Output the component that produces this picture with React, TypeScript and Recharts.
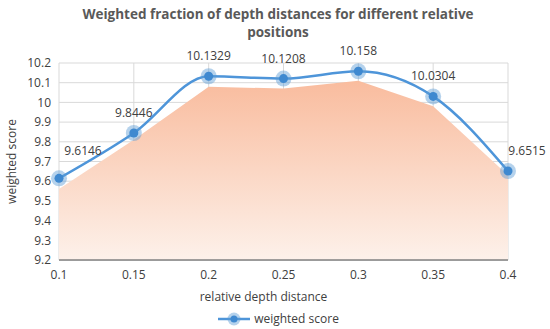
import React from 'react';
import { ComposedChart, Line, Area, XAxis, YAxis, CartesianGrid, Legend, LabelList } from 'recharts';

const categories = ['0.1', '0.15', '0.2', '0.25', '0.3', '0.35', '0.4'];
const weightedScore = [9.6146, 9.8446, 10.1329, 10.1208, 10.158, 10.0304, 9.6515];
const shadowArea = [9.56, 9.81, 10.08, 10.07, 10.11, 9.98, 9.63];
const yTicks = [9.2, 9.3, 9.4, 9.5, 9.6, 9.7, 9.8, 9.9, 10, 10.1, 10.2];

const data = categories.map((c, i) => ({ x: c, score: weightedScore[i], shadow: shadowArea[i] }));

const FONT = '"Segoe UI", "Open Sans", "Noto Sans", sans-serif';

const Dot = (props: any) => {
  const { cx, cy } = props;
  if (cx == null || cy == null) return null;
  return (
    <g>
      <circle cx={cx} cy={cy} r={8} fill="#5b9bd5" fillOpacity={0.45} />
      <circle cx={cx} cy={cy} r={4.5} fill="#3f89d0" />
    </g>
  );
};

const ValueLabel = (props: any) => {
  const { x, y, value, index } = props;
  let dx = 0;
  let dy = -16;
  if (index === 0) { dx = 24; dy = -23; }
  if (index === categories.length - 1) { dx = 19; }
  return (
    <text x={x + dx} y={y + dy} textAnchor="middle" fontSize={12} fill="#404040" fontFamily={FONT}>
      {String(value)}
    </text>
  );
};

const LegendContent = () => (
  <div style={{ display: 'flex', justifyContent: 'center', alignItems: 'center', fontFamily: FONT, fontSize: 12, color: '#404040', paddingLeft: 48, marginTop: 5 }}>
    <svg width={34} height={16} style={{ marginRight: 3 }}>
      <line x1={1} y1={8} x2={33} y2={8} stroke="#4e95d9" strokeWidth={2.5} />
      <circle cx={17} cy={8} r={6.5} fill="#5b9bd5" fillOpacity={0.45} />
      <circle cx={17} cy={8} r={3.5} fill="#3f89d0" />
    </svg>
    <span>weighted score</span>
  </div>
);

export default function App() {
  return (
    <div style={{ position: 'absolute', left: 0, top: 0, width: 550, height: 329, background: '#fff' }}>
      <div style={{ position: 'absolute', left: 0, top: 5, width: 556, textAlign: 'center', fontFamily: FONT, fontWeight: 700, fontSize: 13.5, lineHeight: '18px', color: '#595959' }}>
        Weighted fraction of depth distances for different relative<br />positions
      </div>
      <ComposedChart width={550} height={329} data={data} margin={{ top: 63, right: 42, left: 0, bottom: 0 }}>
        <defs>
          <linearGradient id="areaGrad" x1="0" y1="0" x2="0" y2="1">
            <stop offset="0%" stopColor="#f9bc9e" stopOpacity={1} />
            <stop offset="100%" stopColor="#fdf1ea" stopOpacity={1} />
          </linearGradient>
        </defs>
        <CartesianGrid stroke="#d9d9d9" vertical horizontal />
        <XAxis
          dataKey="x"
          scale="point"
          padding={{ left: 0, right: 0 }}
          height={45}
          tick={{ fontSize: 12, fill: '#404040', fontFamily: FONT }}
          tickLine={false}
          axisLine={{ stroke: '#808080', strokeWidth: 1.5 }}
          tickMargin={4}
          label={{ value: 'relative depth distance', position: 'insideBottom', offset: 4, dx: -20, fontSize: 12, fill: '#404040', fontFamily: FONT }}
        />
        <YAxis
          domain={[9.2, 10.2]}
          ticks={yTicks}
          interval={0}
          width={59}
          allowDataOverflow
          tick={{ fontSize: 12, fill: '#404040', fontFamily: FONT }}
          tickLine={false}
          axisLine={false}
          tickMargin={2}
          label={{ value: 'weighted score', angle: -90, position: 'insideLeft', offset: 12, style: { textAnchor: 'middle' }, fontSize: 12, fill: '#404040', fontFamily: FONT }}
        />
        <Legend verticalAlign="bottom" height={24} content={<LegendContent />} />
        <Area type="linear" dataKey="shadow" stroke="none" fill="url(#areaGrad)" fillOpacity={1} baseValue={9.2} legendType="none" isAnimationActive={false} activeDot={false} />
        <Line type="monotone" dataKey="score" name="weighted score" stroke="#4e95d9" strokeWidth={2.5} dot={<Dot />} activeDot={false} isAnimationActive={false}>
          <LabelList dataKey="score" content={<ValueLabel />} />
        </Line>
      </ComposedChart>
    </div>
  );
}
